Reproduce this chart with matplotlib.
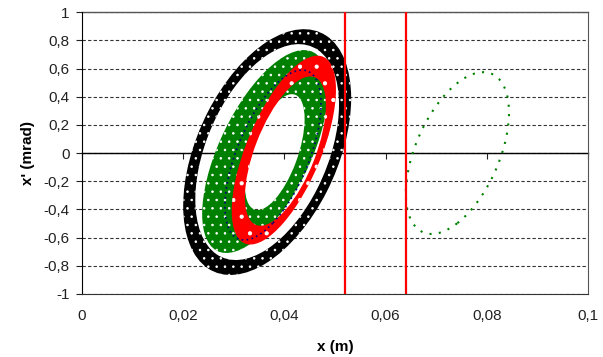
import matplotlib.pyplot as plt
import numpy as np
from matplotlib.path import Path
from matplotlib.patches import PathPatch
from matplotlib.transforms import Affine2D

plt.rcParams['font.family'] = ['Liberation Sans', 'DejaVu Sans']
plt.rcParams['font.size'] = 11
plt.rcParams['hatch.linewidth'] = 0.6

# tick values and labels (comma decimals as in the original)
x_ticks = [0, 0.02, 0.04, 0.06, 0.08, 0.1]
x_labels = ['0', '0,02', '0,04', '0,06', '0,08', '0,1']
y_ticks = [-1, -0.8, -0.6, -0.4, -0.2, 0, 0.2, 0.4, 0.6, 0.8, 1]
y_labels = ['-1', '-0,8', '-0,6', '-0,4', '-0,2', '0', '0,2', '0,4', '0,6', '0,8', '1']

# aperture limits (red lines)
limits_x = [0.052, 0.064]

# phase-space bands (drawn in this order):
# centre x, centre y, half width in x, half height in x', tilt (deg)
band_colors = ['black', '#008000', '#ff0000']
outer_cx = [0.0366, 0.0362, 0.0399]
outer_cy = [0.007, 0.011, 0.021]
outer_a = [0.0166, 0.01245, 0.0103]
outer_b = [0.872, 0.720, 0.67]
outer_tilt = [26, 38, 40]
inner_cx = [0.0366, 0.0381, 0.0402]
inner_cy = [0.007, 0.007, 0.014]
inner_a = [0.0142, 0.0059, 0.0080]
inner_b = [0.766, 0.411, 0.53]
inner_tilt = [26, 35, 38]

# single traces: blue inside the green band, green one beyond the aperture
trace_colors = ['navy', '#008000']
trace_cx = [0.03775, 0.0742]
trace_cy = [-0.014, 0.0]
trace_a = [0.0095, 0.0102]
trace_b = [0.603, 0.574]
trace_tilt = [37, 30]


def ellipse_path(cx, cy, a, b, tilt, flip=False):
    t = np.radians(tilt)
    m = Affine2D(np.array([[a, 0, cx], [b * np.sin(t), b * np.cos(t), cy], [0, 0, 1]]))
    if flip:
        m = Affine2D().scale(1, -1) + m
    return m.transform_path(Path.unit_circle())


fig = plt.figure(figsize=(6.03, 3.57), dpi=100)
ax = fig.add_axes([0.136, 0.1765, 0.839, 0.7895])

ax.set_xlim(0, 0.1)
ax.set_ylim(-1, 1)
ax.set_axisbelow(True)

ax.set_xticks(x_ticks)
ax.set_xticklabels(x_labels)
ax.set_yticks(y_ticks)
ax.set_yticklabels(y_labels)
ax.yaxis.grid(True, linestyle=(0, (3, 2)), color='#333333', lw=0.8)

# top spine used as the x' = 0 axis line
ax.spines['top'].set_position(('data', 0))
ax.spines['top'].set_zorder(0.8)
ax.spines['top'].set_linewidth(1.0)
ax.spines['right'].set_color('#555555')
ax.spines['bottom'].set_color('#333333')
ax.axhline(1, color='#555555', lw=1.0, clip_on=False)
ax.tick_params(axis='x', bottom=False, top=True, labelbottom=True, labeltop=False,
               direction='in', length=4, width=0.8, pad=11, colors='#222222')
ax.tick_params(axis='y', direction='out', length=4, width=0.8, pad=5, colors='#222222')

# solid bands with white specks standing in for the gaps between points
hatches = ['..', '..', '.']
for i in range(len(band_colors)):
    outer = ellipse_path(outer_cx[i], outer_cy[i], outer_a[i], outer_b[i], outer_tilt[i])
    inner = ellipse_path(inner_cx[i], inner_cy[i], inner_a[i], inner_b[i], inner_tilt[i], flip=True)
    band = Path.make_compound_path(outer, inner)
    ax.add_patch(PathPatch(band, facecolor=band_colors[i], edgecolor='white',
                           lw=0, hatch=hatches[i], zorder=1 + 0.1 * i))

styles = [(0, (1, 2)), (0, (1, 3.5))]
widths = [1.2, 1.5]
for i in range(len(trace_colors)):
    p = ellipse_path(trace_cx[i], trace_cy[i], trace_a[i], trace_b[i], trace_tilt[i])
    ax.add_patch(PathPatch(p, fill=False, edgecolor=trace_colors[i],
                           lw=widths[i], linestyle=styles[i], zorder=1.5))

for xv in limits_x:
    ax.axvline(xv, color='red', lw=1.6)

fig.text(335 / 603, 1 - 347 / 357, 'x (m)', ha='center', va='center',
         fontweight='bold', fontsize=11)
fig.text(28 / 603, 1 - 153 / 357, "x' (mrad)", ha='center', va='center',
         rotation=90, fontweight='bold', fontsize=11)

fig.savefig('out.png', dpi=100)
